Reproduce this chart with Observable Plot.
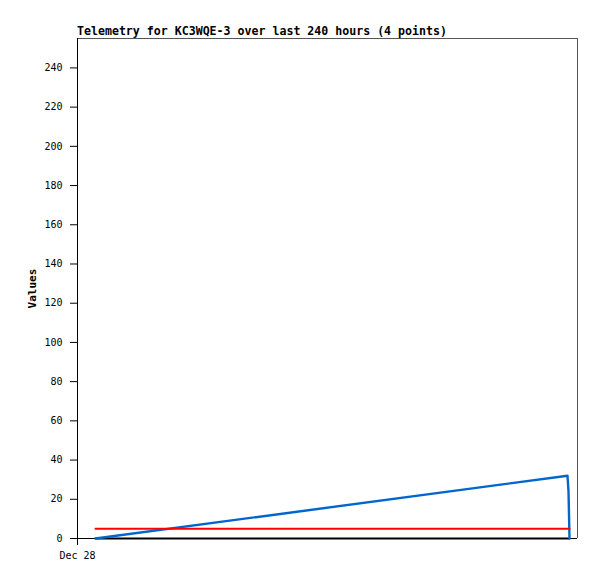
<!DOCTYPE html>
<html>
<head>
<meta charset="utf-8">
<script src="https://cdn.jsdelivr.net/npm/d3@7"></script>
<script src="https://cdn.jsdelivr.net/npm/@observablehq/plot@0.6"></script>
<style>
  html, body { margin: 0; padding: 0; background: #fff; }
  #wrap { width: 597px; height: 579px; position: relative; }
  #title { position: relative; height: 30px; }
  #title span { position: absolute; left: 77px; top: 25px; line-height: 13px;
    font-family: "DejaVu Sans Mono", monospace; font-weight: bold; font-size: 11.6px; color: #000; white-space: nowrap; }
  svg { display: block; }
</style>
</head>
<body>
<div id="wrap">
  <div id="title"><span>Telemetry for KC3WQE-3 over last 240 hours (4 points)</span></div>
  <div id="chart"></div>
</div>
<script>
// Data (4 points)
const times = ["2023-12-28T08:38Z", "2024-01-06T19:12Z", "2024-01-06T19:41Z", "2024-01-06T20:10Z"];
const blueValues = [0, 32, 24, 0];
const redValues = [5, 5, 5, 5];
const blackValues = [0, 0, 0, 0];
const xDomain = ["2023-12-28T00:00Z", "2024-01-07T00:00Z"];
const yDomain = [0, 255];
const yTicks = [0, 20, 40, 60, 80, 100, 120, 140, 160, 180, 200, 220, 240];
const xTicks = ["2023-12-28T00:00Z"];
const xTickLabels = ["Dec 28"];

const t = times.map(s => new Date(s));
const mk = vals => t.map((d, i) => ({time: d, value: vals[i]}));
const blue = mk(blueValues), red = mk(redValues), black = mk(blackValues);
const xd = xDomain.map(s => new Date(s));
const xt = xTicks.map(s => new Date(s));

const chart = Plot.plot({
  width: 597,
  height: 549,
  marginTop: 8,
  marginBottom: 41,
  marginLeft: 77,
  marginRight: 20,
  style: {fontFamily: "DejaVu Sans Mono, monospace", fontSize: "10px", color: "#000", background: "#fff"},
  x: {type: "utc", domain: xd},
  y: {domain: yDomain},
  marks: [
    Plot.ruleY([yDomain[1]], {stroke: "#555", strokeWidth: 1}),
    Plot.ruleX([xd[1]], {stroke: "#555", strokeWidth: 1}),
    Plot.ruleY([0], {stroke: "#000", strokeWidth: 1}),
    Plot.ruleX([xd[0]], {stroke: "#000", strokeWidth: 1, insetBottom: -7}),
    Plot.axisY({ticks: yTicks, tickSize: 7, tickPadding: 8, label: null, stroke: "#000"}),
    Plot.axisX({ticks: xt, tickSize: 7, tickPadding: 6, label: null, tickFormat: (d, i) => xTickLabels[i], stroke: "#000"}),
    Plot.text(["Values"], {frameAnchor: "left", dx: -45, rotate: -90, textAnchor: "middle", fontWeight: "bold", fontSize: 11, fill: "#000"}),
    Plot.line(black, {x: "time", y: "value", stroke: "#000", strokeWidth: 2}),
    Plot.line(blue, {x: "time", y: "value", stroke: "#0066CC", strokeWidth: 2.4}),
    Plot.line(red, {x: "time", y: "value", stroke: "#FF0000", strokeWidth: 2})
  ]
});
document.getElementById("chart").appendChild(chart);
</script>
</body>
</html>
